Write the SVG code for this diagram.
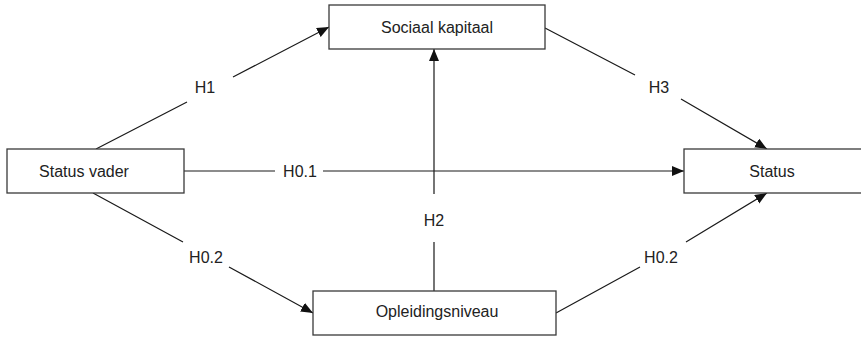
<svg xmlns="http://www.w3.org/2000/svg" width="861" height="337" viewBox="0 0 861 337">
<style>
.box{fill:#fff;stroke:#3a3a3a;stroke-width:1.3}
.t{font-family:"Liberation Sans","Open Sans",sans-serif;font-size:16px;fill:#222;text-anchor:middle}
.c{fill:none;stroke:#1a1a1a;stroke-width:1.2}
</style>
<defs>
<marker id="ah" markerUnits="userSpaceOnUse" markerWidth="13" markerHeight="11" refX="12" refY="5" orient="auto">
<path d="M0,0 L12,5 L0,10 z" fill="#111"/>
</marker>
</defs>
<rect width="861" height="337" fill="#fff"/>
<g id="connectors">
<path class="c" d="M96,149 L187,102 M233,77 L329,27" marker-end="url(#ah)"/>
<path class="c" d="M545,28 L635,75 M681,99 L767,149" marker-end="url(#ah)"/>
<path class="c" d="M184,171 L275,171 M323,171 L684,171" marker-end="url(#ah)"/>
<path class="c" d="M434,291 L434,242 M434,194 L434,49" marker-end="url(#ah)"/>
<path class="c" d="M93,193 L183,242 M229,267 L313,313" marker-end="url(#ah)"/>
<path class="c" d="M556,313 L640,267 M686,242 L767,193" marker-end="url(#ah)"/>
<text class="t" x="205" y="93">H1</text>
<text class="t" x="659" y="93">H3</text>
<text class="t" x="300" y="177">H0.1</text>
<text class="t" x="434" y="226">H2</text>
<text class="t" x="206" y="263">H0.2</text>
<text class="t" x="661" y="263">H0.2</text>
</g>
<g id="sociaal-kapitaal">
<rect class="box" x="329" y="5" width="216" height="44"/>
<text class="t" x="437" y="33">Sociaal kapitaal</text>
</g>
<g id="status-vader">
<rect class="box" x="7" y="149" width="177" height="44"/>
<text class="t" x="84" y="177">Status vader</text>
</g>
<g id="status">
<rect class="box" x="684" y="149" width="190" height="44"/>
<text class="t" x="772" y="177">Status</text>
</g>
<g id="opleidingsniveau">
<rect class="box" x="313" y="291" width="243" height="44"/>
<text class="t" x="437" y="317">Opleidingsniveau</text>
</g>
</svg>
